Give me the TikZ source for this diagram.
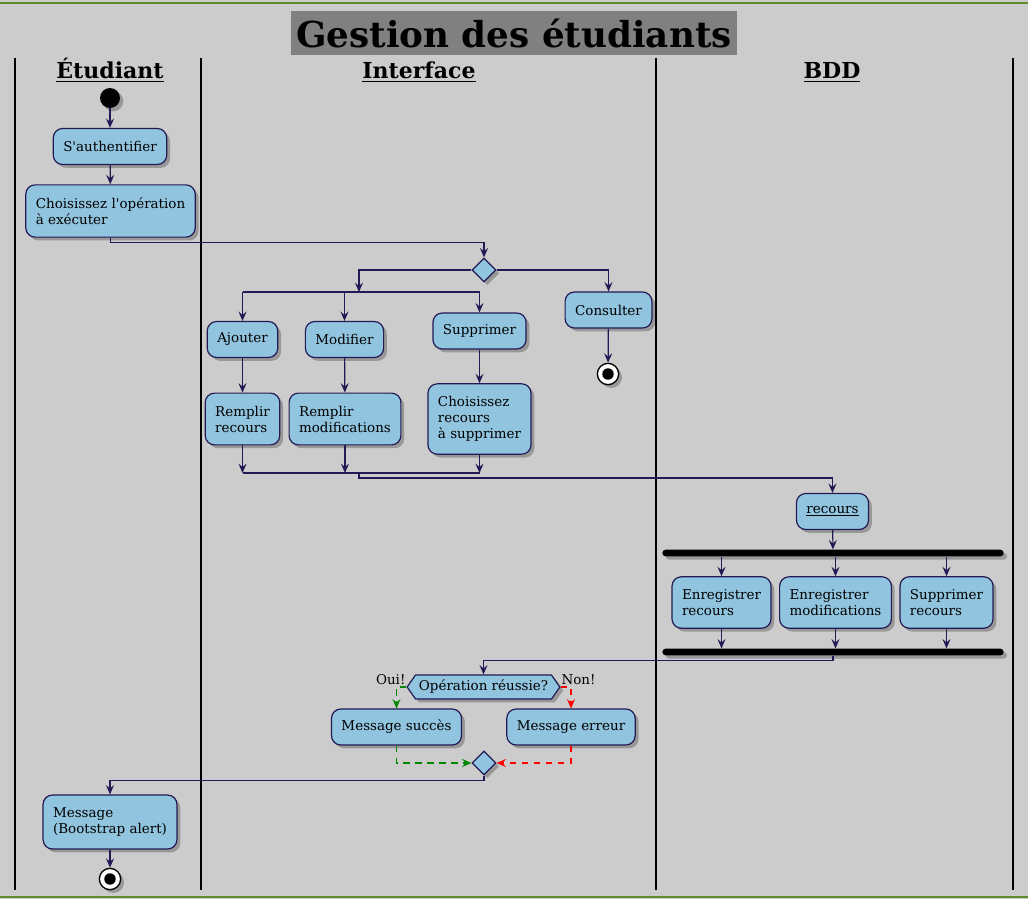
\documentclass[tikz,border=0pt]{standalone}
\usepackage{fontspec}
\setmainfont{DejaVu Serif}
\usetikzlibrary{shapes.geometric,shapes.symbols,arrows.meta,shadows,positioning}
\definecolor{actfill}{RGB}{145,196,222}
\definecolor{actline}{RGB}{34,26,84}
\definecolor{lanebg}{RGB}{204,204,204}
\definecolor{titlebg}{RGB}{128,128,128}
\definecolor{frameline}{RGB}{96,140,44}
\definecolor{okgreen}{RGB}{0,136,0}
\definecolor{kored}{RGB}{255,0,0}

\tikzset{
  shadowed/.style={drop shadow={shadow xshift=2.5pt, shadow yshift=-2.5pt, fill=black, opacity=0.25}},
  act/.style={draw=actline, fill=actfill, line width=0.9pt, rounded corners=7pt,
    inner xsep=7.5pt, inner ysep=6pt, minimum height=27pt,
    font=\fontsize{10.1}{12}\selectfont, shadowed},
  multi/.style={act, align=left, inner ysep=9.5pt},
  choice/.style={diamond, draw=actline, fill=actfill, line width=0.9pt,
    minimum width=18pt, minimum height=18pt, inner sep=0pt, shadowed},
  test/.style={signal, signal to=west and east, signal pointer angle=110,
    draw=actline, fill=actfill, line width=0.9pt, inner xsep=2.5pt, inner ysep=2pt,
    minimum height=18pt, font=\fontsize{10.1}{12}\selectfont, shadowed},
  syncbar/.style={fill=black, rounded corners=2.5pt, minimum width=256pt,
    minimum height=5pt, inner sep=0pt, shadowed},
  start/.style={circle, fill=black, minimum size=15pt, inner sep=0pt, shadowed},
  stop/.style={circle, draw=black, line width=1pt, fill=white, minimum size=16pt,
    inner sep=0pt, shadowed, path picture={\fill[black] (path picture bounding box.center) circle (4.3pt);}},
  lanehead/.style={font=\fontsize{16.5}{18}\bfseries, anchor=base},
  lbl/.style={font=\fontsize{10.1}{12}\selectfont, inner sep=0.5pt},
  link/.style={draw=actline, line width=0.9pt},
  flow/.style={link, -{Stealth[length=7pt, width=6pt, inset=2.5pt]}},
  oui/.style={draw=okgreen, line width=0.9pt, dashed, dash pattern=on 5pt off 4pt,
    -{Stealth[length=7pt, width=6pt, inset=2.5pt]}},
  non/.style={oui, draw=kored}
}

\begin{document}
\begin{tikzpicture}[x=0.75pt, y=-0.75pt]
  % background and frame
  \fill[lanebg] (0,0) rectangle (1028,899);
  \useasboundingbox (0,0) rectangle (1028,899);
  \draw[frameline, line width=2pt] (0,3) -- (1028,3);
  \draw[frameline, line width=2pt] (0,897) -- (1028,897);

  % title
  \node[fill=titlebg, minimum width=334.5pt, minimum height=33pt, inner sep=0pt,
        font=\fontsize{26.8}{30}\bfseries] (titre) at (514,33) {Gestion des étudiants};

  % swimlanes
  \foreach \x in {15,201,656,1013} {
    \draw[black, line width=1.5pt] (\x,58) -- (\x,890);
  }
  \node[lanehead] (hEtu) at (110,79) {\underline{Étudiant}};
  \node[lanehead] (hInt) at (419,79) {\underline{Interface}};
  \node[lanehead] (hBdd) at (832,79) {\underline{BDD}};

  % Etudiant
  \node[start] (debut) at (110,98) {};
  \node[act] (auth) at (110,146.5) {S\textquotesingle authentifier};
  \node[multi] (choix) at (110.5,211) {Choisissez l\textquotesingle opération\\à exécuter};

  % Interface
  \node[choice] (d1) at (484,270) {};
  \coordinate (fork) at (359,292);
  \node[act] (ajout) at (242.5,339.5) {Ajouter};
  \node[act] (modif) at (344.5,339.5) {Modifier};
  \node[act] (suppr) at (479.5,331) {Supprimer};
  \node[act] (consult) at (608.5,310) {Consulter};
  \node[stop] (fin1) at (608,374) {};
  \node[multi] (rempRec) at (242.5,419) {Remplir\\recours};
  \node[multi] (rempMod) at (345,419) {Remplir\\modifications};
  \node[multi] (choixSup) at (479.5,419) {Choisissez\\recours\\à supprimer};
  \coordinate (join) at (359,473);

  % BDD
  \node[act] (recours) at (832.5,511.5) {\underline{recours}};
  \node[syncbar] (bar1) at (833,553) {};
  \node[multi] (enrRec) at (721.5,602.5) {Enregistrer\\recours};
  \node[multi] (enrMod) at (835.5,602.5) {Enregistrer\\modifications};
  \node[multi] (supRec) at (946.5,602.5) {Supprimer\\recours};
  \node[syncbar] (bar2) at (833,652) {};

  % retour
  \node[test] (hex) at (483.5,687) {Opération réussie?};
  \node[lbl, anchor=base east, yshift=2pt] (lOui) at (hex.west) {Oui!};
  \node[lbl, anchor=base west, yshift=2pt] (lNon) at (hex.east) {Non!};
  \node[act] (succes) at (396.5,727) {Message succès};
  \node[act] (erreur) at (571,727) {Message erreur};
  \node[choice] (merge) at (484,763) {};
  \node[multi] (msg) at (110,822) {Message\\(Bootstrap alert)};
  \node[stop] (fin2) at (110,879) {};

  % connectors
  \draw[flow] (debut) -- (auth);
  \draw[flow] (auth) -- (choix);
  \draw[flow] (choix.south) -- ++(0,5) -| (d1.north);
  \draw[flow] (d1.west) -| (fork);
  \draw[flow] (d1.east) -| (consult.north);
  \draw[link] (fork -| ajout.north) -- (fork -| suppr.north);
  \draw[flow] (fork -| ajout.north) -- (ajout.north);
  \draw[flow] (fork -| modif.north) -- (modif.north);
  \draw[flow] (fork -| suppr.north) -- (suppr.north);
  \draw[flow] (consult) -- (fin1);
  \draw[flow] (ajout) -- (rempRec);
  \draw[flow] (modif) -- (rempMod);
  \draw[flow] (suppr) -- (choixSup);
  \draw[flow] (rempRec.south) -- (join -| rempRec.south);
  \draw[flow] (rempMod.south) -- (join -| rempMod.south);
  \draw[flow] (choixSup.south) -- (join -| choixSup.south);
  \draw[link] (join -| rempRec.south) -- (join -| choixSup.south);
  \draw[flow] (join) -- ++(0,5) -| (recours.north);
  \draw[flow] (recours) -- (bar1);
  \draw[flow] (bar1.south -| enrRec.north) -- (enrRec.north);
  \draw[flow] (bar1.south -| enrMod.north) -- (enrMod.north);
  \draw[flow] (bar1.south -| supRec.north) -- (supRec.north);
  \draw[flow] (enrRec.south) -- (enrRec.south |- bar2.north);
  \draw[flow] (enrMod.south) -- (enrMod.south |- bar2.north);
  \draw[flow] (supRec.south) -- (supRec.south |- bar2.north);
  \draw[flow] (bar2.south) -- ++(0,5) -| (hex.north);
  \draw[oui] (hex.west) -| (succes.north);
  \draw[non] (hex.east) -| (erreur.north);
  \draw[oui] (succes.south) |- (merge.west);
  \draw[non] (erreur.south) |- (merge.east);
  \draw[flow] (merge.south) -- ++(0,5) -| (msg.north);
  \draw[flow] (msg) -- (fin2);
\end{tikzpicture}
\end{document}
